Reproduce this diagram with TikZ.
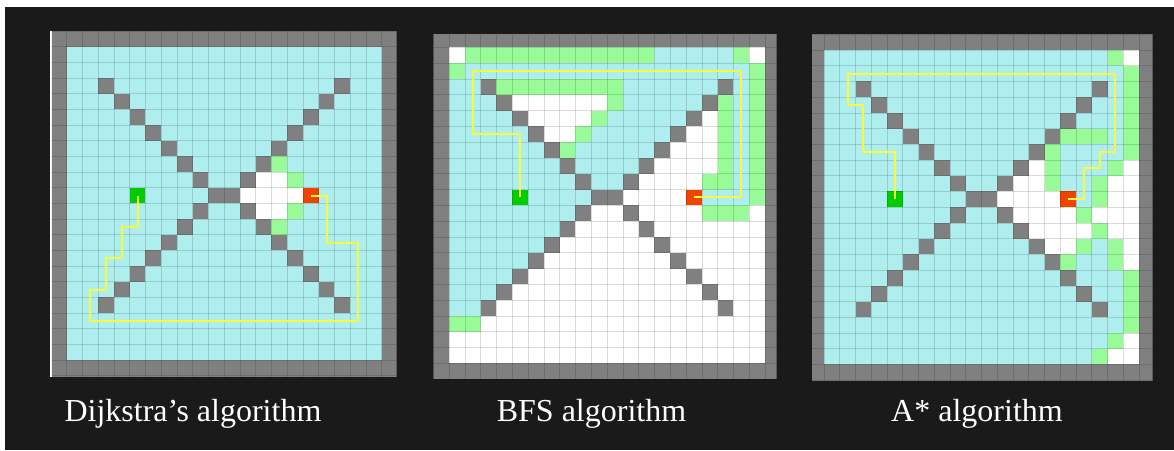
\documentclass[tikz,border=0pt]{standalone}
\usepackage{fontspec}
\setmainfont{Liberation Serif}
\definecolor{bgdark}{HTML}{1A1A1A}
\definecolor{wallc}{HTML}{808080}
\definecolor{visc}{HTML}{AFEEEE}
\definecolor{frontc}{HTML}{98FB98}
\definecolor{startc}{HTML}{00CC00}
\definecolor{goalc}{HTML}{EE4400}
\definecolor{pathc}{HTML}{FAFA3A}
\newcommand\crow[3]{\fill (#1,#3) rectangle ({#2+1},{#3+1});}
\newcommand\obstacles{%
  \foreach \k in {2,...,8}{\fill (\k,\k) rectangle ({\k+1},{\k+1});}
  \fill (9,9) rectangle (11,10);
  \foreach \c in {11,...,17}{\fill (\c,{19-\c}) rectangle ({\c+1},{20-\c});}
  \foreach \c in {2,...,8}{\fill (\c,{18-\c}) rectangle ({\c+1},{19-\c});}
  \foreach \c in {11,...,17}{\fill (\c,{\c-1}) rectangle ({\c+1},{\c});}
}
\newcommand\gridlines{%
  \foreach \i in {-1,...,21}{\draw[gridl] (\i,-1.2) -- (\i,21.2); \draw[gridl] (-1.2,\i) -- (21.2,\i);}
}
\tikzset{
  gridl/.style={draw=black, draw opacity=0.14, line width=0.6pt},
  route/.style={draw=pathc, line width=2pt, line join=round},
  captext/.style={text=white, font=\fontsize{32}{36}\selectfont, anchor=base, inner sep=0pt},
}
\begin{document}
\begin{tikzpicture}[x=1pt,y=-1pt]
\useasboundingbox (0,0) rectangle (1174,450);
\fill[white] (0,0) rectangle (1174,450);
\fill[bgdark] (5,7) rectangle (1174,450);

% ---------------- Panel 1: Dijkstra
\fill[white] (49.5,31) rectangle (51.7,376.7);
\begin{scope}
\clip (51.7,31) rectangle (396.7,376.7);
\fill[wallc] (51.7,31) rectangle (396.7,376.7);
\begin{scope}[shift={(66.7pt,-46.7pt)}, x=15.75pt, y=-15.67pt]
  \fill[visc] (0,0) rectangle (20,20);
  \begin{scope}[fill=white]
    \crow{12}{13}{8} \crow{11}{14}{9} \crow{12}{13}{10}
  \end{scope}
  \begin{scope}[fill=frontc]
    \crow{13}{13}{7} \crow{14}{14}{8} \crow{14}{14}{10} \crow{13}{13}{11}
  \end{scope}
  \begin{scope}[fill=wallc] \obstacles \end{scope}
  \fill[startc] (4,9) rectangle (5,10);
  \fill[goalc] (15,9) rectangle (16,10);
  \gridlines
  \coordinate (s1) at (4.5,9.5);
  \coordinate (g1) at (15.5,9.5);
  \draw[route] (s1) -- (4.5,11.5) -- (3.5,11.5) -- (3.5,13.5) -- (2.5,13.5) -- (2.5,15.5)
     -- (1.5,15.5) -- (1.5,17.5) -- (18.5,17.5) -- (18.5,12.5) -- (16.5,12.5) -- (16.5,9.5) -- (g1);
\end{scope}
\end{scope}

% ---------------- Panel 2: BFS
\begin{scope}
\clip (433.3,34) rectangle (776.7,379);
\fill[wallc] (433.3,34) rectangle (776.7,379);
\begin{scope}[shift={(449pt,-47.3pt)}, x=15.8pt, y=-15.8pt]
  \fill[visc] (0,0) rectangle (20,20);
  \begin{scope}[fill=white]
    \crow{0}{0}{0} \crow{19}{19}{0}
    \crow{4}{9}{3}
    \crow{5}{8}{4} \crow{16}{16}{4}
    \crow{6}{7}{5} \crow{15}{16}{5}
    \crow{14}{16}{6}
    \crow{13}{16}{7}
    \crow{12}{15}{8}
    \crow{11}{14}{9}
    \crow{9}{10}{10} \crow{12}{15}{10} \crow{19}{19}{10}
    \foreach \r in {11,...,16}{\fill ({18-\r},\r) rectangle (20,{\r+1});}
    \crow{2}{19}{17} \crow{0}{19}{18} \crow{0}{19}{19}
  \end{scope}
  \begin{scope}[fill=frontc]
    \crow{1}{12}{0} \crow{18}{18}{0}
    \crow{0}{0}{1} \crow{19}{19}{1}
    \crow{3}{10}{2} \crow{19}{19}{2}
    \crow{10}{10}{3} \crow{17}{17}{3} \crow{19}{19}{3}
    \crow{9}{9}{4} \crow{17}{17}{4} \crow{19}{19}{4}
    \crow{8}{8}{5} \crow{17}{17}{5} \crow{19}{19}{5}
    \crow{7}{7}{6} \crow{17}{17}{6} \crow{19}{19}{6}
    \crow{17}{17}{7} \crow{19}{19}{7}
    \crow{16}{17}{8} \crow{19}{19}{8}
    \crow{19}{19}{9}
    \crow{16}{18}{10}
    \crow{0}{1}{17}
  \end{scope}
  \begin{scope}[fill=wallc] \obstacles \end{scope}
  \fill[startc] (4,9) rectangle (5,10);
  \fill[goalc] (15,9) rectangle (16,10);
  \gridlines
  \coordinate (s2) at (4.5,9.5);
  \coordinate (g2) at (15.5,9.5);
  \draw[route] (s2) -- (4.5,5.5) -- (1.5,5.5) -- (1.5,1.5) -- (18.5,1.5) -- (18.5,9.5) -- (g2);
\end{scope}
\end{scope}

% ---------------- Panel 3: A*
\begin{scope}
\clip (811.7,34) rectangle (1152.7,380.7);
\fill[wallc] (811.7,34) rectangle (1152.7,380.7);
\begin{scope}[shift={(824pt,-50pt)}, x=15.75pt, y=-15.72pt]
  \fill[visc] (0,0) rectangle (20,20);
  \begin{scope}[fill=white]
    \crow{19}{19}{0}
    \crow{13}{13}{7} \crow{19}{19}{7}
    \crow{12}{13}{8} \crow{18}{19}{8}
    \crow{11}{14}{9} \crow{18}{19}{9}
    \crow{12}{15}{10} \crow{17}{19}{10}
    \crow{13}{16}{11} \crow{18}{19}{11}
    \crow{14}{15}{12} \crow{19}{19}{12}
    \crow{19}{19}{13}
    \crow{19}{19}{18}
    \crow{18}{19}{19}
  \end{scope}
  \begin{scope}[fill=frontc]
    \crow{18}{18}{0}
    \fill (19,1) rectangle (20,7);
    \crow{15}{17}{5}
    \crow{14}{14}{6}
    \crow{14}{14}{7} \crow{18}{18}{7}
    \crow{14}{14}{8} \crow{17}{17}{8}
    \crow{17}{17}{9}
    \crow{16}{16}{10}
    \crow{17}{17}{11}
    \crow{16}{16}{12} \crow{18}{18}{12}
    \crow{15}{15}{13} \crow{18}{18}{13}
    \fill (19,14) rectangle (20,18);
    \crow{18}{18}{18}
    \crow{17}{17}{19}
  \end{scope}
  \begin{scope}[fill=wallc] \obstacles \end{scope}
  \fill[startc] (4,9) rectangle (5,10);
  \fill[goalc] (15,9) rectangle (16,10);
  \gridlines
  \coordinate (s3) at (4.5,9.5);
  \coordinate (g3) at (15.5,9.5);
  \draw[route] (s3) -- (4.5,6.5) -- (2.5,6.5) -- (2.5,3.5) -- (1.5,3.5) -- (1.5,1.5) -- (18.5,1.5)
     -- (18.5,6.5) -- (17.5,6.5) -- (17.5,7.5) -- (16.5,7.5) -- (16.5,9.5) -- (g3);
\end{scope}
\end{scope}

% ---------------- captions
\node[captext] (t1) at (193,421) {Dijkstra’s algorithm};
\node[captext] (t2) at (591.5,421) {BFS algorithm};
\node[captext] (t3) at (977,421) {A* algorithm};
\end{tikzpicture}
\end{document}
